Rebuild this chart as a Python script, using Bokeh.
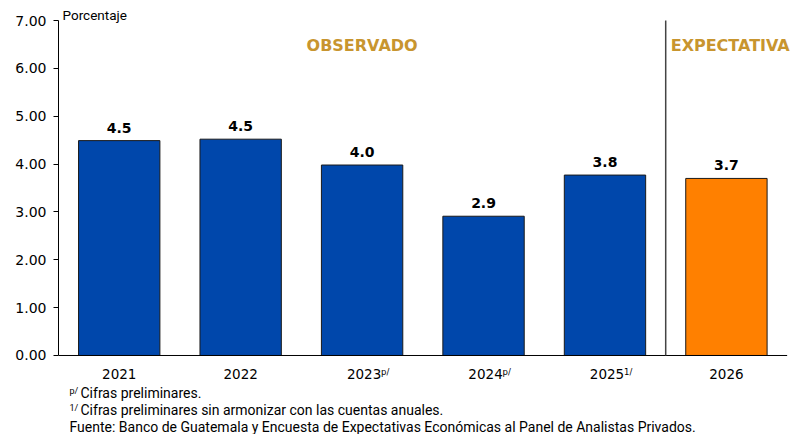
from bokeh.plotting import figure
from bokeh.models import Range1d, FixedTicker, Label, LabelSet, ColumnDataSource
from bokeh.core.properties import value
from bokeh.embed import file_html
from bokeh.resources import INLINE

# ---- data ----
years = ["2021", "2022", "2023", "2024", "2025", "2026"]
year_marks = ["", "", "p/", "p/", "1/", ""]
values = [4.49, 4.52, 3.98, 2.91, 3.77, 3.70]
value_labels = ["4.5", "4.5", "4.0", "2.9", "3.8", "3.7"]
kinds = ["obs", "obs", "obs", "obs", "obs", "exp"]
y_ticks = [0, 1, 2, 3, 4, 5, 6, 7]
footnote_marks = ["p/", "1/", ""]
footnote_texts = [
    "Cifras preliminares.",
    "Cifras preliminares sin armonizar con las cuentas anuales.",
    "Fuente: Banco de Guatemala y Encuesta de Expectativas Económicas al Panel de Analistas Privados.",
]

BLUE = "#0047AB"
ORANGE = "#FF8000"
GOLD = "#C8952F"
FONT = "DejaVu Sans"
NOTE_FONT = "Roboto"

xs = list(range(len(years)))
colors = [BLUE if k == "obs" else ORANGE for k in kinds]
src = ColumnDataSource(dict(x=xs, top=values, lab=value_labels, color=colors))

# y range extended above/below the 0-7 scale so that notes and headers fit in the frame
p = figure(width=800, height=434, output_backend="svg", toolbar_location=None,
           x_range=Range1d(-0.5, 5.61), y_range=Range1d(-1.651, 7.418),
           x_axis_location=None,
           min_border_left=58, min_border_right=0, min_border_top=0, min_border_bottom=0)
p.outline_line_color = None
p.xgrid.visible = False
p.ygrid.visible = False
p.background_fill_color = "white"
p.border_fill_color = "white"

p.vbar(x="x", top="top", width=0.67, bottom=0, fill_color="color",
       line_color="#1a1a1a", line_width=1, source=src)

p.add_layout(LabelSet(x="x", y="top", text="lab", source=src, text_align="center",
                      text_baseline="bottom", y_offset=8, text_font=value(FONT),
                      text_font_style="bold", text_font_size="14px", text_color="black"))

# y axis
p.yaxis.bounds = (0, 7)
p.yaxis.ticker = FixedTicker(ticks=y_ticks)
p.yaxis.major_label_overrides = {t: f"{t:.2f}" for t in y_ticks}
p.yaxis.major_label_text_font = FONT
p.yaxis.major_label_text_font_size = "14px"
p.yaxis.major_label_text_color = "black"
p.yaxis.axis_line_color = "black"
p.yaxis.major_tick_line_color = "black"
p.yaxis.major_tick_out = 5
p.yaxis.major_tick_in = 0
p.yaxis.minor_tick_line_color = None
p.yaxis.major_label_standoff = 7

# x axis line
p.segment(x0=[-0.5], y0=[0], x1=[5.5], y1=[0], line_color="black", line_width=1)

# x category labels
for i, yr, m in zip(xs, years, year_marks):
    shift = 2 if m else 0
    p.add_layout(Label(x=i, y=-0.397, text=yr, x_offset=shift, text_align="center",
                       text_baseline="middle", text_font=FONT, text_font_size="13.5px",
                       text_color="black"))
    if m:
        p.add_layout(Label(x=i, y=-0.24, text=m, x_offset=shift + 17, text_font=FONT,
                           text_font_size="8.5px", text_baseline="top", text_color="black"))

# divider between observed and expected
p.segment(x0=[4.5], y0=[0], x1=[4.5], y1=[7], line_color="#444444", line_width=1.5)

# headers
p.add_layout(Label(x=2.0, y=6.478, text="OBSERVADO", text_align="center", text_baseline="middle",
                   text_font=FONT, text_font_style="bold", text_font_size="16px", text_color=GOLD))
p.add_layout(Label(x=4.5, y=6.478, text="EXPECTATIVA", x_offset=5, text_align="left",
                   text_baseline="middle", text_font=FONT, text_font_style="bold",
                   text_font_size="16px", text_color=GOLD))

p.add_layout(Label(x=-0.5, y=7.125, text="Porcentaje", x_offset=4, text_baseline="middle",
                   text_font=NOTE_FONT, text_font_size="13.5px", text_color="black"))

# footnotes
foot_y = [-0.794, -1.149, -1.484]
for m, txt, fy in zip(footnote_marks, footnote_texts, foot_y):
    if m:
        p.add_layout(Label(x=-0.5, y=fy, text=m, x_offset=11, y_offset=7, text_font=NOTE_FONT,
                           text_font_size="9px", text_baseline="top", text_color="black"))
        p.add_layout(Label(x=-0.5, y=fy, text=txt, x_offset=22, text_font=NOTE_FONT,
                           text_font_size="14px", text_baseline="middle", text_color="black"))
    else:
        p.add_layout(Label(x=-0.5, y=fy, text=txt, x_offset=11, text_font=NOTE_FONT,
                           text_font_size="14px", text_baseline="middle", text_color="black"))

open("out.html", "w").write(file_html(p, INLINE))
